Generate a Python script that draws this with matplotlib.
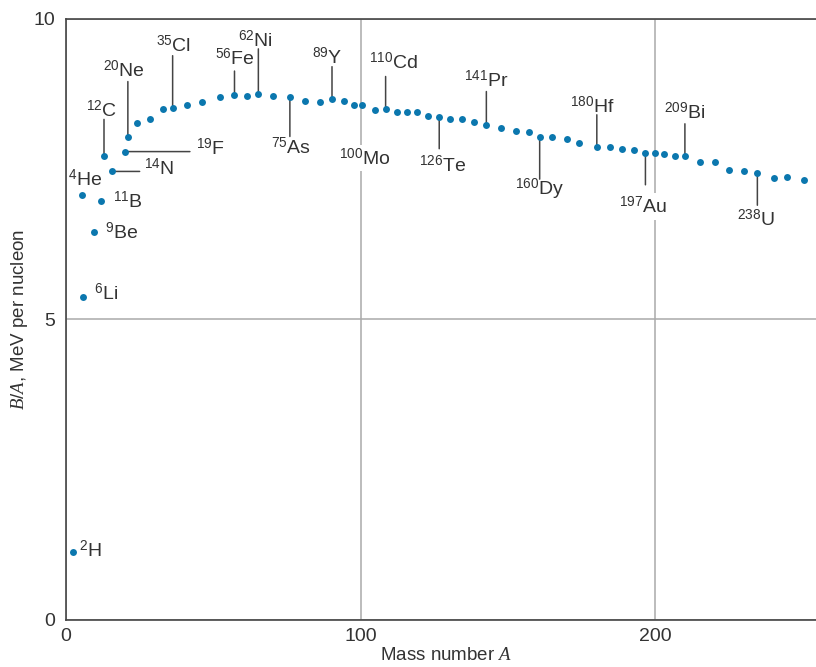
import numpy as np
import matplotlib.pyplot as plt

# binding energy per nucleon
mass_number = [2.5, 5.5, 5.9, 9.6, 11.8, 12.9, 15.5, 20.0, 21.0, 24.2,
               28.5, 32.8, 36.2, 41.0, 46.2, 52.2, 57.2, 61.6, 65.3, 70.4,
               76.0, 81.2, 86.1, 90.3, 94.4, 97.6, 100.6, 104.8, 108.5, 112.3,
               115.7, 119.3, 123.0, 126.7, 130.3, 134.4, 138.4, 142.7, 147.7, 152.8,
               157.2, 160.8, 165.1, 170.2, 174.3, 180.2, 184.8, 188.9, 192.8, 196.7,
               200.0, 203.1, 206.7, 210.1, 215.2, 220.2, 225.2, 230.2, 234.7, 240.2,
               244.7, 250.4]
binding = [1.13, 7.07, 5.37, 6.45, 6.96, 7.71, 7.46, 7.79, 8.04, 8.27,
           8.33, 8.49, 8.52, 8.56, 8.62, 8.69, 8.73, 8.71, 8.75, 8.71,
           8.69, 8.63, 8.61, 8.67, 8.63, 8.57, 8.57, 8.48, 8.49, 8.45,
           8.45, 8.45, 8.38, 8.37, 8.34, 8.34, 8.28, 8.24, 8.18, 8.13,
           8.11, 8.03, 8.04, 8.00, 7.94, 7.87, 7.87, 7.84, 7.81, 7.77,
           7.77, 7.75, 7.71, 7.72, 7.61, 7.61, 7.49, 7.46, 7.43, 7.35,
           7.37, 7.32]

# named isotopes and the dot each one belongs to
tag_mass = ['2', '4', '6', '9', '11', '12', '14', '19', '20', '35', '56', '62',
            '75', '89', '100', '110', '126', '141', '160', '180', '197', '209', '238']
tag_symbol = ['H', 'He', 'Li', 'Be', 'B', 'C', 'N', 'F', 'Ne', 'Cl', 'Fe', 'Ni',
              'As', 'Y', 'Mo', 'Cd', 'Te', 'Pr', 'Dy', 'Hf', 'Au', 'Bi', 'U']
tag_point = [0, 1, 2, 3, 4, 5, 6, 7, 8, 12, 16, 18,
             20, 23, 26, 28, 33, 37, 41, 45, 49, 53, 58]

# leader line end, text offset (pixels, y up), alignment, white box
layout = {
    'H':  (None, (6, -5), 'left', False),
    'He': (None, (3, 9), 'center', False),
    'Li': (None, (11, -3), 'left', False),
    'Be': (None, (11, -7), 'left', False),
    'B':  (None, (12, -7), 'left', False),
    'C':  ((0, 37), (-2, 39), 'center', False),
    'N':  ((28, 0), (32, -4), 'left', False),
    'F':  ((65, 0), (71, -4), 'left', False),
    'Ne': ((0, 55), (-4, 59), 'center', False),
    'Cl': ((0, 52), (1, 56), 'center', False),
    'Fe': ((0, 24), (0, 30), 'center', False),
    'Ni': ((0, 45), (-3, 47), 'center', False),
    'As': ((0, -39), (1, -57), 'center', False),
    'Y':  ((0, 32), (-5, 35), 'center', False),
    'Mo': (None, (2, -60), 'center', True),
    'Cd': ((0, 33), (8, 40), 'center', False),
    'Te': ((0, -32), (3, -55), 'center', False),
    'Pr': ((0, 33), (0, 37), 'center', False),
    'Dy': ((0, -42), (0, -58), 'center', False),
    'Hf': ((0, 32), (-4, 34), 'center', False),
    'Au': ((0, -32), (-2, -60), 'center', True),
    'Bi': ((0, 32), (0, 37), 'center', False),
    'U':  ((0, -32), (-1, -53), 'center', False),
}

plt.rcParams['font.family'] = ['Liberation Sans', 'DejaVu Sans']
plt.rcParams['mathtext.fontset'] = 'custom'
plt.rcParams['mathtext.rm'] = 'Liberation Sans'
plt.rcParams['mathtext.it'] = 'Liberation Serif:italic'

text_col = '#333333'
dot_col = '#0b77ae'
line_col = '#444444'

fig = plt.figure(figsize=(8.16, 6.67), dpi=100)
ax = fig.add_axes([66 / 816, 47 / 667, 760 / 816, 601.3 / 667])

ax.scatter(mass_number, binding, s=25, color=dot_col, linewidths=0, zorder=4)

for m, sym, i in zip(tag_mass, tag_symbol, tag_point):
    lead, off, ha, boxed = layout[sym]
    xy = (mass_number[i], binding[i])
    if lead is not None:
        ax.annotate('', xy=xy, xytext=lead, textcoords='offset pixels',
                    arrowprops=dict(arrowstyle='-', color=line_col, lw=1.1,
                                    shrinkA=0, shrinkB=0), zorder=3)
    box = dict(facecolor='white', edgecolor='none', pad=2) if boxed else None
    ax.annotate('$^{%s}$%s' % (m, sym), xy=xy, xytext=off, textcoords='offset pixels',
                ha=ha, va='baseline', fontsize=14, color=text_col, bbox=box, zorder=3)

ax.set_xlim(0, 258)
ax.set_ylim(0, 10)
ax.set_xticks([0, 100, 200])
ax.set_yticks([0, 5, 10])
ax.grid(True, color='#aaaaaa', lw=1.1, zorder=0)
ax.set_axisbelow(True)
ax.tick_params(length=0, labelsize=14, labelcolor=text_col)
ax.tick_params(axis='x', pad=6)
ax.tick_params(axis='y', pad=8)
for side in ['left', 'top', 'bottom']:
    ax.spines[side].set_color(line_col)
    ax.spines[side].set_linewidth(1.2)
ax.spines['right'].set_visible(False)

ax.set_xlabel('Mass number $\\mathit{A}$', fontsize=13.5, color=text_col, labelpad=1)
ax.set_ylabel('$\\mathit{B/A}$, MeV per nucleon', fontsize=13.5, color=text_col, labelpad=2)

fig.savefig('out.png', dpi=100)
